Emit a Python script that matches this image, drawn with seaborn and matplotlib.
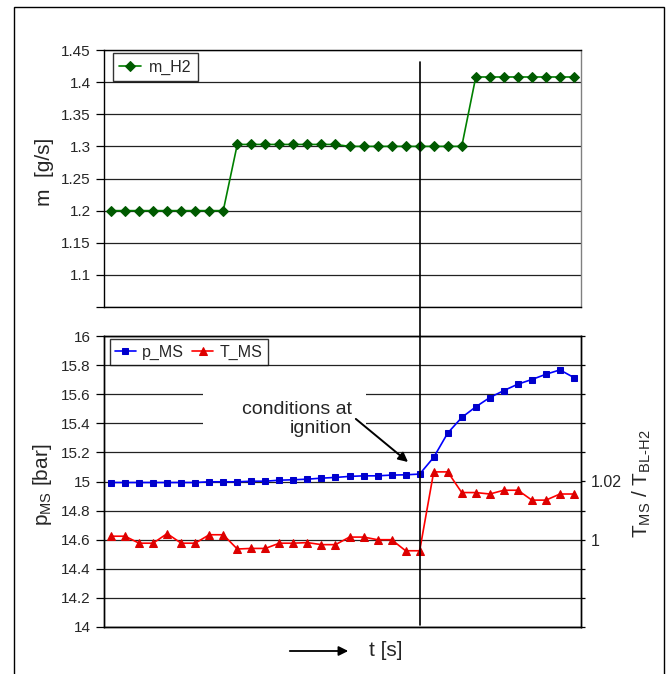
import numpy as np
import matplotlib
matplotlib.use("Agg")
import matplotlib.pyplot as plt
from matplotlib.patches import Rectangle, FancyArrowPatch
from matplotlib.lines import Line2D
import matplotlib.transforms as mtransforms
import seaborn as sns

# ---------------- data ----------------
t_index = np.arange(34)
m_h2 = [1.2] * 9 + [1.303] * 8 + [1.30] * 9 + [1.408] * 8
p_ms = [14.993, 14.993, 14.993, 14.993, 14.993, 14.993, 14.993, 14.998, 14.998,
        14.998, 15.002, 15.002, 15.009, 15.012, 15.016, 15.023, 15.028, 15.035,
        15.039, 15.039, 15.044, 15.046, 15.051,
        15.166, 15.333, 15.44, 15.513, 15.577, 15.625, 15.669, 15.701, 15.737,
        15.767, 15.714]
t_ms = [1.0012, 1.0012, 0.9988, 0.9988, 1.0021, 0.9988, 0.9988, 1.0017, 1.0017,
        0.9968, 0.997, 0.997, 0.9988, 0.9988, 0.999, 0.9983, 0.9983, 1.0009,
        1.0009, 1.0, 1.0, 0.9962, 0.9962,
        1.0233, 1.0233, 1.0162, 1.0162, 1.0157, 1.017, 1.017, 1.0136, 1.0136,
        1.0157, 1.0157]
ignition_index = 22

m_ticks = [1.05, 1.1, 1.15, 1.2, 1.25, 1.3, 1.35, 1.4, 1.45]
m_ticklabels = ["", "1.1", "1.15", "1.2", "1.25", "1.3", "1.35", "1.4", "1.45"]
p_ticks = [14.0, 14.2, 14.4, 14.6, 14.8, 15.0, 15.2, 15.4, 15.6, 15.8, 16.0]
p_ticklabels = ["14", "14.2", "14.4", "14.6", "14.8", "15", "15.2", "15.4", "15.6", "15.8", "16"]
t_ticks = [0.97, 0.98, 0.99, 1.00, 1.01, 1.02, 1.03, 1.04, 1.05, 1.06, 1.07]
t_ticklabels = ["", "", "", "1", "", "1.02", "", "", "", "", ""]

# ---------------- style ----------------
sns.set_style("white")
plt.rcParams["font.family"] = ["Liberation Sans", "DejaVu Sans"]
plt.rcParams["mathtext.fontset"] = "custom"
plt.rcParams["mathtext.rm"] = "Liberation Sans"
plt.rcParams["mathtext.it"] = "Liberation Sans:italic"
plt.rcParams["mathtext.bf"] = "Liberation Sans:bold"
plt.rcParams["legend.fancybox"] = False

W, H = 666, 674
fig = plt.figure(figsize=(W / 100, H / 100), dpi=100)

def fx(px):
    return px / W

def fy(py):
    return 1 - py / H

# outer frame
fig.add_artist(Rectangle((fx(13.6), -0.05), fx(663.5) - fx(13.6), fy(7.2) + 0.05,
                         transform=fig.transFigure, fill=False, edgecolor="black",
                         linewidth=1.0, zorder=0))

L, R = 104, 581
ax1 = fig.add_axes([fx(L), fy(307), fx(R) - fx(L), fy(50) - fy(307)])
ax = fig.add_axes([fx(L), fy(627), fx(R) - fx(L), fy(336) - fy(627)])
ax2 = ax.twinx()

grid_kw = dict(color="#222222", linewidth=0.9)

# ---------------- top panel ----------------
sns.lineplot(x=t_index, y=m_h2, ax=ax1, color="#008000", linewidth=1.2,
             marker="D", markersize=4.8, markerfacecolor="#005a00",
             markeredgecolor="#005a00", errorbar=None, label="m_H2")
ax1.set_xlim(-0.5, 33.5)
ax1.set_ylim(1.05, 1.45)
ax1.set_yticks(m_ticks)
ax1.set_yticklabels(m_ticklabels)
ax1.set_xticks([])
ax1.yaxis.grid(True, **grid_kw)
ax1.set_axisbelow(True)
ax1.tick_params(axis="y", left=True, length=5.5, width=0.9, pad=4,
                labelsize=11, color="black", direction="out")
for s in ["left", "top", "bottom"]:
    ax1.spines[s].set_color("black")
    ax1.spines[s].set_linewidth(1.0)
ax1.spines["right"].set_color("#808080")
ax1.spines["right"].set_linewidth(1.0)
ax1.set_ylabel("m  [g/s]", fontsize=15, va="center")
ax1.yaxis.set_label_coords((45 - L) / (R - L), (307 - 172) / (307 - 50))
leg1 = ax1.legend(loc="upper left", bbox_to_anchor=((112.7 - L) / (R - L), 1 - (53.3 - 50) / 257),
                  borderaxespad=0, fontsize=11.5, frameon=True, handlelength=1.4,
                  handletextpad=0.45, borderpad=0.4)
leg1.get_frame().set_edgecolor("black")
leg1.get_frame().set_linewidth(1.0)

# ---------------- bottom panel ----------------
sns.lineplot(x=t_index, y=p_ms, ax=ax, color="#0000FF", linewidth=1.2,
             marker="s", markersize=5, markerfacecolor="#0000CC",
             markeredgecolor="#0000CC", errorbar=None, label="p_MS", zorder=3)
sns.lineplot(x=t_index, y=t_ms, ax=ax2, color="#FF0000", linewidth=1.2,
             marker="^", markersize=5.3, markerfacecolor="#DD0000",
             markeredgecolor="#DD0000", errorbar=None, label="T_MS", zorder=3)
if ax.get_legend() is not None:
    ax.get_legend().remove()
if ax2.get_legend() is not None:
    ax2.get_legend().remove()

ax.set_xlim(-0.5, 33.5)
ax.set_ylim(14, 16)
ax.set_yticks(p_ticks)
ax.set_yticklabels(p_ticklabels)
ax.set_xticks([])
ax.yaxis.grid(True, **grid_kw)
ax.set_axisbelow(True)
ax.tick_params(axis="y", left=True, length=5.5, width=0.9, pad=4,
               labelsize=11, color="black", direction="out")
ax2.set_ylim(0.97, 1.07)
ax2.set_yticks(t_ticks)
ax2.set_yticklabels(t_ticklabels)
ax2.tick_params(axis="y", right=True, length=3, width=0.9, pad=4,
                labelsize=11.5, color="black", direction="out")
ax2.grid(False)
for a in (ax, ax2):
    for s in a.spines.values():
        s.set_color("black")
        s.set_linewidth(1.0)

ax.set_ylabel(r"p$_{\mathregular{MS}}$ [bar]", fontsize=15, va="center")
ax.yaxis.set_label_coords((42 - L) / (R - L), (627 - 485) / (627 - 336))
ax2.set_ylabel(r"T$_{\mathregular{MS}}$ / T$_{\mathregular{BL\text{-}H2}}$", fontsize=15,
               va="center", rotation=90)
ax2.yaxis.set_label_coords((642 - L) / (R - L), (627 - 484) / (627 - 336))

# white box behind the annotation text
ax.add_patch(Rectangle((6.56, 15.28), 18.17 - 6.56, 15.72 - 15.28, facecolor="white",
                       edgecolor="none", zorder=1))
ax.text(17.2, 15.43, "conditions at\nignition", ha="right", va="center",
        multialignment="right", fontsize=14, linespacing=1.15, zorder=2)
ax.annotate("", xy=(21.17, 15.134), xytext=(17.45, 15.43),
            arrowprops=dict(arrowstyle="-|>", color="black", lw=1.4,
                            mutation_scale=14, shrinkA=0, shrinkB=0), zorder=2)

handles = ax.get_lines()[:1] + ax2.get_lines()[:1]
leg2 = ax2.legend(handles, ["p_MS", "T_MS"], loc="upper left",
                  bbox_to_anchor=((109.5 - L) / (R - L), 1 - (339 - 336) / 291),
                  borderaxespad=0, fontsize=11.5, ncol=2, frameon=True,
                  handlelength=1.3, handletextpad=0.4, borderpad=0.35,
                  columnspacing=0.5)
leg2.get_frame().set_edgecolor("black")
leg2.get_frame().set_linewidth(1.0)
leg2.set_zorder(5)

# vertical ignition line across both panels
trans = mtransforms.blended_transform_factory(ax1.transData, fig.transFigure)
fig.add_artist(Line2D([ignition_index, ignition_index], [fy(62), fy(625)],
                      transform=trans, color="black", linewidth=1.2, zorder=10))

# x label with arrow
fig.text(fx(386), fy(650), "t [s]", ha="center", va="center", fontsize=15)
fig.add_artist(FancyArrowPatch((fx(287), fy(651)), (fx(351), fy(651)),
                               transform=fig.transFigure, arrowstyle="-|>",
                               mutation_scale=14, color="black", lw=1.3))

fig.savefig("out.png", dpi=100)
